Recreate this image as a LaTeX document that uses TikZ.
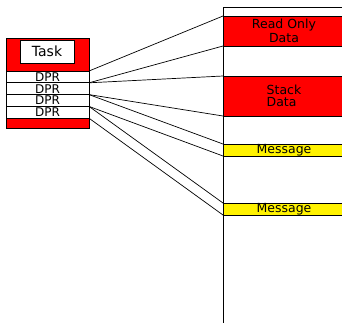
\documentclass[tikz,border=0pt]{standalone}
\usepackage{fontspec}
\setmainfont{DejaVu Sans}
\begin{document}
\begin{tikzpicture}[x=1pt,y=-1pt,
  blk/.style={draw=black,line width=0.8pt,inner sep=0pt,outer sep=0pt,anchor=north west},
  rowbox/.style={blk,fill=white,minimum width=83pt,minimum height=11.8pt,font=\fontsize{12}{12}\selectfont},
  seg/.style={blk,minimum width=122pt,font=\fontsize{12.5}{15}\selectfont},
  redseg/.style={seg,fill=red},
  msgseg/.style={seg,fill=yellow,minimum height=12pt},
  link/.style={draw=black,line width=0.7pt}]
\useasboundingbox (0,0) rectangle (342,322);

% task with its DPR slots
\node[blk,fill=red,minimum width=83pt,minimum height=90pt] (task) at (6,38) {};
\node[blk,fill=white,minimum width=54pt,minimum height=23pt,font=\fontsize{14}{14}\selectfont] (tname) at (20,40) {Task};
\node[rowbox] (d1) at (6,71) {DPR};
\node[rowbox] (d2) at (6,82.8) {DPR};
\node[rowbox] (d3) at (6,94.6) {DPR};
\node[rowbox] (d4) at (6,106.4) {DPR};

% memory column
\coordinate (mtop) at (223,7.3);
\coordinate (mbot) at (223,323);
\coordinate (mright) at (343,7.3);
\node[redseg,minimum height=30pt,align=center] (ro) at (223,16) {Read Only\\[-1pt]Data};
\node[redseg,minimum height=40pt,align=left,font=\fontsize{12.5}{12.5}\selectfont] (st) at (223,76) {Stack\\Data};
\node[msgseg] (m1) at (223,144) {Message};
\node[msgseg] (m2) at (223,203) {Message};
\draw[line width=0.9pt] (mbot) -- (mtop) -- (mright);

% DPR mappings
\draw[link] (d1.north east) -- (ro.north west);
\draw[link] (d1.south east) -- (ro.south west);
\draw[link] (d2.north east) -- (st.north west);
\draw[link] (d2.south east) -- (st.south west);
\draw[link] (d3.north east) -- (m1.north west);
\draw[link] (d3.south east) -- (m1.south west);
\draw[link] (d4.north east) -- (m2.north west);
\draw[link] (d4.south east) -- (m2.south west);
\end{tikzpicture}
\end{document}
